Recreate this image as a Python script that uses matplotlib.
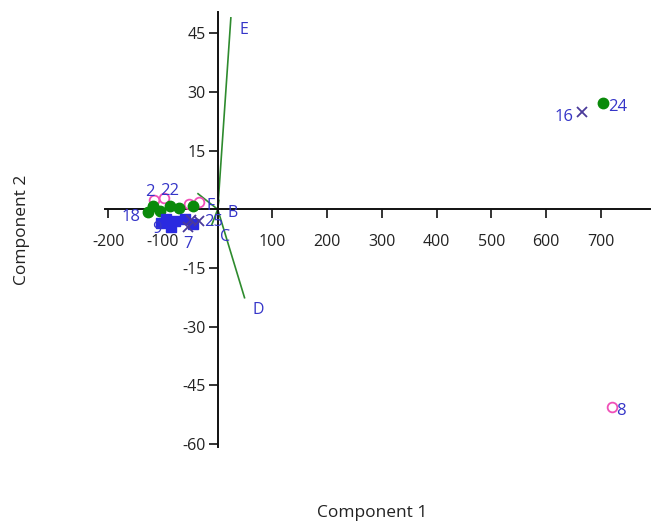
import matplotlib
matplotlib.use("Agg")
import matplotlib.pyplot as plt

plt.rcParams['font.family'] = ['Open Sans', 'DejaVu Sans']

# --- data (component scores) ---
green_ids = ["18", "2", "12", "22", "14", "20", "24"]
green_x = [-128, -118, -105, -88, -70, -45, 705]
green_y = [-0.8, 0.8, -0.5, 0.8, 0.3, 0.8, 27.2]

pink_ids = ["8", "1", "5", "11", "23"]
pink_x = [720, -117, -99, -53, -35]
pink_y = [-50.5, 2.3, 2.8, 1.5, 2.0]

square_ids = ["9", "3", "6", "13", "19", "15"]
square_x = [-104, -95, -78, -60, -85, -45]
square_y = [-3.6, -2.5, -3.0, -2.5, -4.4, -3.8]

cross_ids = ["16", "7", "10", "25"]
cross_x = [665, -55, -48, -35]
cross_y = [25.0, -4.5, -2.8, -3.0]

# --- loadings (biplot vectors) ---
load_names = ["E", "D", "F", "B", "C"]
load_x = [24, 49, -36, 2, -11]
load_y = [49, -22.6, 4.0, 2.3, -4.0]

x_ticks = [-200, -100, 100, 200, 300, 400, 500, 600, 700]
y_ticks = [45, 30, 15, -15, -30, -45, -60]

fig = plt.figure(figsize=(6.51, 5.26), dpi=100)
ax = fig.add_axes([105/651, 1-447/526, 545/651, 435/526])
ax.set_xlim(-206, 790)
ax.set_ylim(-60.8, 50.5)

label_col = '#3535c8'
green = '#0a8a0a'
pink = '#f050b8'
blue = '#2a2ae0'
xcol = '#4a3a9a'

for lx, ly in zip(load_x, load_y):
    ax.plot([0, lx], [0, ly], color='#2e8b2e', lw=1.2, zorder=2)
for n, lx, ly in zip(load_names, load_x, load_y):
    ax.annotate(n, (lx, ly), xytext=(6, -3), textcoords='offset points',
                color=label_col, fontsize=11.5, va='top', ha='left', zorder=6)

ax.plot(pink_x, pink_y, 'o', mfc='none', mec=pink, ms=7, mew=1.3, zorder=3)
ax.plot(green_x, green_y, 'o', color=green, ms=7.5, zorder=4)
ax.plot(square_x, square_y, 's', color=blue, ms=7.5, zorder=4)
ax.plot(cross_x, cross_y, 'x', color=xcol, ms=7, mew=1.3, zorder=4)

# labels that are legible in the reference: id -> (dx, dy in points, ha)
placement = {
    "16": (-6, -4, 'right'),
    "24": (3, -3, 'left'),
    "8": (3, -3, 'left'),
    "18": (-5, -3, 'right'),
    "2": (-2, 10, 'center'),
    "22": (0, 11, 'center'),
    "9": (-3, -4, 'center'),
    "7": (0, -12, 'center'),
    "25": (4, -1, 'left'),
}
for ids, xs, ys in [(green_ids, green_x, green_y), (pink_ids, pink_x, pink_y),
                    (square_ids, square_x, square_y), (cross_ids, cross_x, cross_y)]:
    for i, x, y in zip(ids, xs, ys):
        if i not in placement:
            continue
        dx, dy, ha = placement[i]
        ax.annotate(i, (x, y), xytext=(dx, dy), textcoords='offset points',
                    color=label_col, fontsize=12, ha=ha, va='center', zorder=5)

# axes crossing at origin
for s in ['top', 'right']:
    ax.spines[s].set_visible(False)
ax.spines['left'].set_position(('data', 0))
ax.spines['bottom'].set_position(('data', 0))
for s in ['left', 'bottom']:
    ax.spines[s].set_color('#111111')
    ax.spines[s].set_linewidth(1.4)

ax.set_xticks(x_ticks)
ax.set_xticklabels([str(t) for t in x_ticks])
ax.set_yticks(y_ticks)
ax.set_yticklabels([str(t) for t in y_ticks])
ax.tick_params(axis='both', direction='out', length=6.5, width=1.2, color='#111111',
               labelsize=11.5, labelcolor='#222222', pad=2)
ax.tick_params(axis='x', pad=11)

fig.text(372/651, 1-513/526, 'Component 1', fontsize=12.5, color='#222222',
         ha='center', va='center')
fig.text(22/651, 1-230/526, 'Component 2', fontsize=12.5, color='#222222',
         ha='center', va='center', rotation=90)

fig.savefig('out.png', dpi=100)
